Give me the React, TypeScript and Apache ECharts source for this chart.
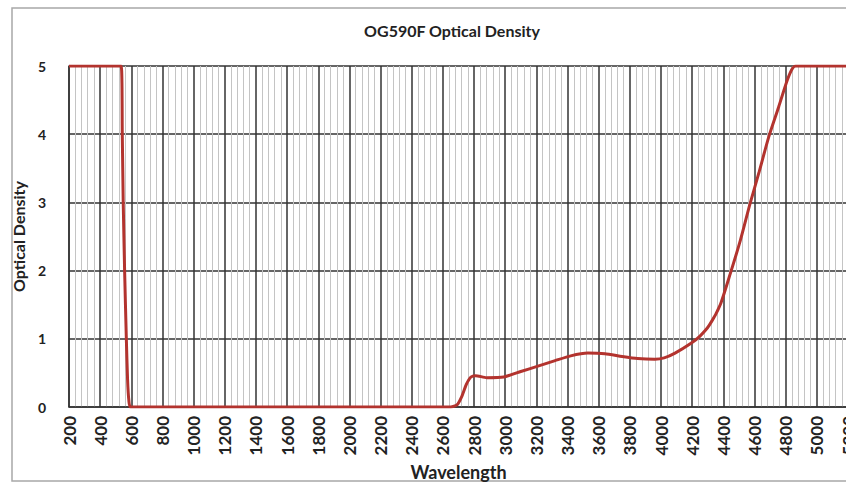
import React, { useEffect, useRef } from "react";
import * as echarts from "echarts";

const titleText = "OG590F Optical Density";
const xName = "Wavelength";
const yName = "Optical Density";
const wavelengths = [200, 535, 542, 548, 557, 568, 576, 584, 595, 2650, 2690, 2720, 2750, 2780, 2810, 2880, 2990, 3100, 3210, 3320, 3420, 3530, 3640, 3750, 3850, 3960, 4020, 4090, 4190, 4250, 4310, 4380, 4445, 4510, 4570, 4630, 4690, 4755, 4810, 4845, 4865, 5200];
const densities = [5, 5, 4, 3, 2, 1, 0.4, 0.1, 0, 0, 0.03, 0.15, 0.33, 0.44, 0.46, 0.43, 0.44, 0.52, 0.6, 0.68, 0.75, 0.79, 0.78, 0.74, 0.71, 0.7, 0.72, 0.79, 0.93, 1.04, 1.2, 1.5, 1.96, 2.45, 2.97, 3.45, 3.95, 4.4, 4.79, 4.97, 5, 5];

const FONT = "Lato, 'DejaVu Sans', sans-serif";

export default function App() {
  const ref = useRef<HTMLDivElement>(null);
  useEffect(() => {
    document.body.style.margin = "0";
    const chart = echarts.init(ref.current!, undefined, { renderer: "svg" });
    const data = wavelengths.map((w, i) => [w, densities[i]]);
    chart.setOption({
      animation: false,
      backgroundColor: "#ffffff",
      textStyle: { fontFamily: FONT },
      graphic: [
        {
          type: "rect",
          shape: { x: 12, y: 8, width: 860, height: 473 },
          style: { fill: "none", stroke: "#a8a8a8", lineWidth: 1.5 },
          silent: true,
        },
        {
          type: "text",
          x: 452,
          y: 30,
          style: {
            text: titleText,
            fontFamily: FONT,
            fontSize: 16,
            fontWeight: "bold",
            fill: "#222",
            align: "center",
            verticalAlign: "middle",
          },
        },
      ],
      grid: { left: 69, top: 66, right: -2, bottom: 76, containLabel: false, outerBoundsMode: "none" },
      xAxis: {
        type: "value",
        min: 200,
        max: 5200,
        interval: 200,
        name: xName,
        nameLocation: "middle",
        nameGap: 54,
        nameTextStyle: { fontFamily: FONT, fontSize: 18, fontWeight: "bold", color: "#222" },
        axisLine: { show: true, lineStyle: { color: "#333", width: 1.5 } },
        axisTick: { show: false },
        axisLabel: {
          rotate: 90,
          margin: 9,
          fontFamily: FONT,
          fontSize: 17,
          fontWeight: "bold",
          color: "#222",
          showMaxLabel: true,
          formatter: (v: number) => String(v),
        },
        splitLine: { show: true, lineStyle: { color: "#333", width: 1.5 } },
        minorTick: { show: false, splitNumber: 5 },
        minorSplitLine: { show: true, lineStyle: { color: "#c4c4c4", width: 1 } },
      },
      yAxis: {
        type: "value",
        min: 0,
        max: 5,
        interval: 1,
        name: yName,
        nameLocation: "middle",
        nameGap: 37,
        nameTextStyle: { fontFamily: FONT, fontSize: 16, fontWeight: "bold", color: "#222" },
        axisLine: { show: true, lineStyle: { color: "#333", width: 1.5 } },
        axisTick: { show: false },
        axisLabel: { margin: 23, fontFamily: FONT, fontSize: 14, fontWeight: "bold", color: "#222" },
        splitLine: { show: true, lineStyle: { color: "#333", width: 1.5 } },
      },
      series: [
        {
          type: "line",
          data,
          showSymbol: false,
          smooth: 0.2,
          lineStyle: { color: "#b3332e", width: 3 },
          z: 5,
        },
      ],
    });
    return () => chart.dispose();
  }, []);
  return <div ref={ref} style={{ width: 846, height: 483 }} />;
}
